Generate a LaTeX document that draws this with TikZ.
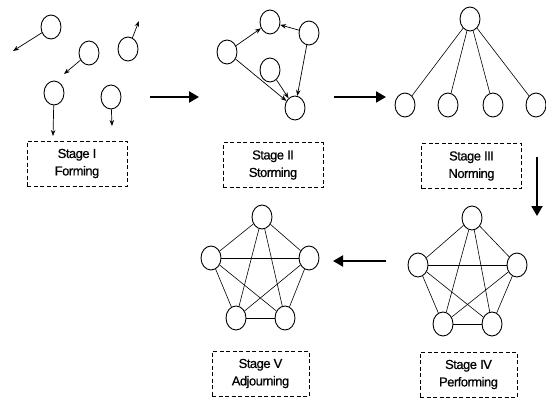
\documentclass[tikz,border=0pt]{standalone}
\usepackage{fontspec}
\setmainfont{Liberation Sans}[LetterSpace=-4,FakeBold=0.6]
\usetikzlibrary{shapes.geometric,arrows.meta}
\begin{document}
\begin{tikzpicture}[x=1pt,y=-1pt,
  circ/.style={ellipse,draw,line width=0.9pt,minimum width=20pt,minimum height=24pt,inner sep=0pt},
  link/.style={line width=0.6pt},
  darr/.style={line width=0.7pt,-{Stealth[length=6pt,width=4.5pt]}},
  bigarr/.style={line width=2.6pt,-{Triangle[length=10pt,width=11pt]}},
  stagebox/.style={draw,dashed,line width=0.9pt,dash pattern=on 4pt off 2.5pt,minimum width=100pt,minimum height=45pt,align=center,font=\fontsize{13}{17.5}\selectfont,inner sep=0pt}
]
\useasboundingbox (0,0) rectangle (546,399);
% Stage I
\node[circ] (a) at (51,27) {};
\node[circ] (b) at (89,53) {};
\node[circ] (c) at (128,49) {};
\node[circ] (d) at (54,93) {};
\node[circ] (e) at (111,97) {};
\coordinate (a1) at (13,51);
\coordinate (b1) at (64,74);
\coordinate (c1) at (139,21);
\coordinate (d1) at (53,136);
\coordinate (e1) at (112,126);
\draw[darr] (a) -- (a1);
\draw[darr] (b) -- (b1);
\draw[darr] (c) -- (c1);
\draw[darr] (d) -- (d1);
\draw[darr] (e) -- (e1);
\node[stagebox] (s1) at (77,163.5) {Stage I\\Forming};
% Stage II
\node[circ] (f) at (227,52) {};
\node[circ] (g) at (270,22) {};
\node[circ] (h) at (309,33) {};
\node[circ] (i) at (270,70) {};
\node[circ] (j) at (295,108) {};
\draw[darr] (f) -- (g);
\draw[darr] (h) -- (g);
\draw[darr] (h) -- (j);
\draw[darr] (i) -- (j);
\draw[darr] (f) -- (j);
\node[stagebox] (s2) at (273,165) {Stage II\\Storming};
% Stage III
\node[circ] (t) at (470,19) {};
\node[circ] (n1) at (405,105) {};
\node[circ] (n2) at (448,105) {};
\node[circ] (n3) at (493,105) {};
\node[circ] (n4) at (536,105) {};
\foreach \k in {n1,n2,n3,n4} \draw[link] (t) -- (\k);
\node[stagebox] (s3) at (471.5,166) {Stage III\\Norming};
% Stage IV
\node[circ] (p1) at (472,218) {};
\node[circ] (p2) at (418,265) {};
\node[circ] (p3) at (517,265) {};
\node[circ] (p4) at (443,324) {};
\node[circ] (p5) at (492,324) {};
\foreach \u/\v in {p1/p2,p1/p3,p1/p4,p1/p5,p2/p3,p2/p4,p2/p5,p3/p4,p3/p5,p4/p5} \draw[link] (\u) -- (\v);
\node[stagebox,minimum width=97pt] (s4) at (468.5,374.5) {Stage IV\\Performing};
% Stage V
\node[circ] (q1) at (262,217) {};
\node[circ] (q2) at (211,258) {};
\node[circ] (q3) at (309,258) {};
\node[circ] (q4) at (236,318) {};
\node[circ] (q5) at (285,318) {};
\foreach \u/\v in {q1/q2,q1/q3,q1/q4,q1/q5,q2/q3,q2/q4,q2/q5,q3/q4,q3/q5,q4/q5} \draw[link] (\u) -- (\v);
\node[stagebox,minimum width=97pt] (s5) at (260.5,373.5) {Stage V\\Adjourning};
% stage arrows
\coordinate (m1s) at (150,97);
\coordinate (m1e) at (199,97);
\draw[bigarr] (m1s) -- (m1e);
\coordinate (m2s) at (334,97);
\coordinate (m2e) at (386,97);
\draw[bigarr,line width=2pt] (m2s) -- (m2e);
\coordinate (m3s) at (537,157);
\coordinate (m3e) at (537,216);
\draw[bigarr,line width=2pt] (m3s) -- (m3e);
\coordinate (m4s) at (386,261);
\coordinate (m4e) at (333,261);
\draw[bigarr,line width=2pt] (m4s) -- (m4e);
\end{tikzpicture}
\end{document}
